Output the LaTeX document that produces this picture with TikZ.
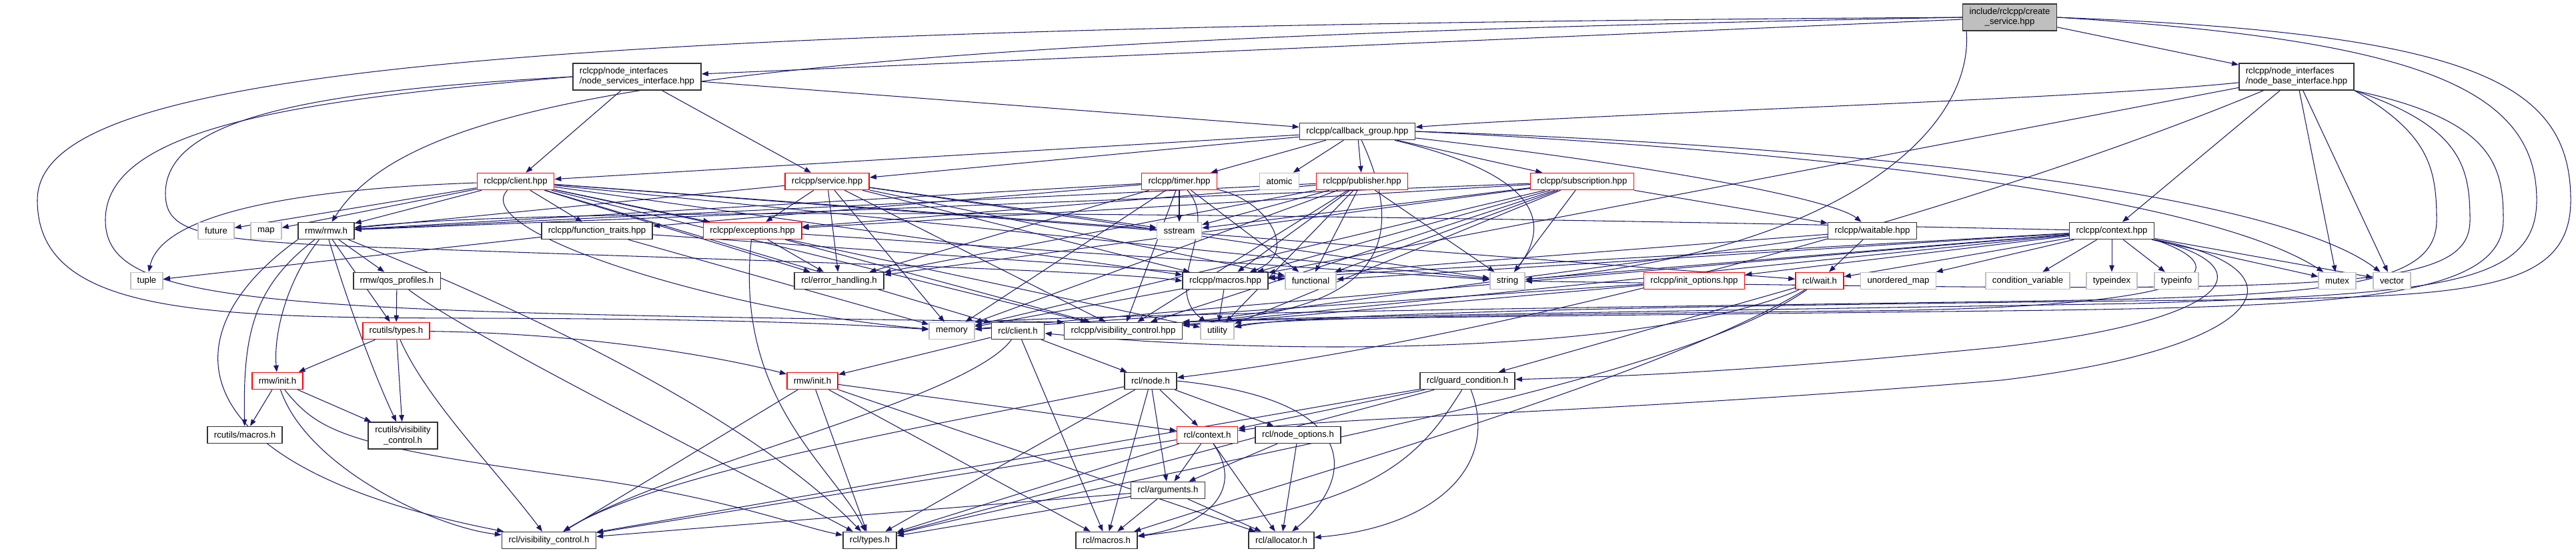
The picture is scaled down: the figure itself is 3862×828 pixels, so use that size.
\documentclass[tikz,border=0pt]{standalone}
\usepackage{fontspec}
\setmainfont{Liberation Sans}
\usetikzlibrary{arrows.meta}
\definecolor{edgeblue}{HTML}{191970}
\definecolor{sysgray}{HTML}{BFBFBF}
\newcommand{\doxyfont}{\fontsize{7.5}{8.6}\selectfont}
\pgfdeclarelayer{background}
\pgfsetlayers{background,main}

\tikzset{
    file/.style={draw=black!80, fill=white, font=\doxyfont, inner xsep=0.2cm,
        inner ysep=0.04cm, minimum height=0.5cm, line width=0.9pt},
    sysfile/.style={file, draw=sysgray},
    cutfile/.style={file, draw=red},
    twoline/.style={file, align=left, minimum height=0.8cm},
    rootfile/.style={file, fill=sysgray, align=center, minimum height=0.8cm},
    link/.style={-{Triangle[length=0.2cm,width=0.15cm]}, draw=edgeblue, line width=0.6pt}
}

\begin{document}
\begin{tikzpicture}[x=0.02cm, y=-0.02cm]
    \useasboundingbox (0,0) rectangle (3862,828);
    % top of the graph
    \node[rootfile] (cs) at (3013,26) {include/rclcpp/create\\\_service.hpp};
    \node[twoline] (nsi) at (955,115) {rclcpp/node\_interfaces\\/node\_services\_interface.hpp};
    \node[twoline] (nbi) at (3443,115) {rclcpp/node\_interfaces\\/node\_base\_interface.hpp};
    \node[file] (cbg) at (2035,197) {rclcpp/callback\_group.hpp};
    \node[cutfile] (client) at (773,272) {rclcpp/client.hpp};
    \node[cutfile] (service) at (1240,272) {rclcpp/service.hpp};
    \node[cutfile] (timer) at (1768,272) {rclcpp/timer.hpp};
    \node[sysfile] (atomic) at (1918,272) {atomic};
    \node[cutfile] (publisher) at (2042,272) {rclcpp/publisher.hpp};
    \node[cutfile] (subscription) at (2372,272) {rclcpp/subscription.hpp};
    \node[sysfile] (future) at (324,346) {future};
    \node[sysfile] (map) at (399,346) {map};
    \node[file] (rmw) at (489,346) {rmw/rmw.h};
    \node[file] (ftraits) at (895,346) {rclcpp/function\_traits.hpp};
    \node[cutfile] (exceptions) at (1128,346) {rclcpp/exceptions.hpp};
    \node[sysfile] (sstream) at (1768,346) {sstream};
    \node[file] (waitable) at (2807,346) {rclcpp/waitable.hpp};
    \node[file] (context) at (3166,346) {rclcpp/context.hpp};
    \node[sysfile] (tuple) at (220,421) {tuple};
    \node[file] (qos) at (595,421) {rmw/qos\_profiles.h};
    \node[file] (errh) at (1258,421) {rcl/error\_handling.h};
    \node[file] (macros) at (1837,421) {rclcpp/macros.hpp};
    \node[sysfile] (functional) at (1965,421) {functional};
    \node[sysfile] (string) at (2260,421) {string};
    \node[cutfile] (initopt) at (2540,421) {rclcpp/init\_options.hpp};
    \node[cutfile] (wait) at (2728,421) {rcl/wait.h};
    \node[sysfile] (umap) at (2846,421) {unordered\_map};
    \node[sysfile] (condvar) at (3040,421) {condition\_variable};
    \node[sysfile] (typeindex) at (3166,421) {typeindex};
    \node[sysfile] (typeinfo) at (3263,421) {typeinfo};
    \node[sysfile] (mutex) at (3504,421) {mutex};
    \node[sysfile] (vector) at (3586,421) {vector};
    \node[cutfile] (rcutypes) at (594,496) {rcutils/types.h};
    \node[sysfile] (memory) at (1427,496) {memory};
    \node[file] (rclclient) at (1526,496) {rcl/client.h};
    \node[file] (vis) at (1684,496) {rclcpp/visibility\_control.hpp};
    \node[sysfile] (utility) at (1825,496) {utility};
    \node[cutfile] (rmwinit) at (416,571) {rmw/init.h};
    \node[cutfile] (init2) at (1218,571) {rmw/init.h};
    \node[file] (node) at (1725,571) {rcl/node.h};
    \node[file] (gc) at (2200,571) {rcl/guard\_condition.h};
    \node[file] (rcumacros) at (367,652) {rcutils/macros.h};
    \node[file, align=center, minimum height=0.8cm] (rcuvis) at (604,653) {rcutils/visibility\\\_control.h};
    \node[cutfile] (rclcontext) at (1810,652) {rcl/context.h};
    \node[file] (nodeopt) at (1946,652) {rcl/node\_options.h};
    \node[file] (args) at (1751,735) {rcl/arguments.h};
    \node[file] (rclvis) at (823,810) {rcl/visibility\_control.h};
    \node[file] (rcltypes) at (1304,810) {rcl/types.h};
    \node[file] (rclmacros) at (1659,810) {rcl/macros.h};
    \node[file] (alloc) at (1921,810) {rcl/allocator.h};

    \begin{pgfonlayer}{background}
    % root file
    \draw[link] (cs) -- (nsi);
    \draw[link] (cs) -- (nbi);
    \draw[link] (cs.west) .. controls (1100,60) and (620,140) .. (rmw);
    \draw[link] (cs.west) .. controls (700,40) and (56,110) .. (56,300) .. controls (56,470) and (300,476) .. (700,477) .. controls (1150,478) and (1300,488) .. (memory);
    \draw[link] ([xshift=-1.3cm]cs.south) .. controls (2960,200) and (2750,380) .. (string);
    \draw[link] (cs.east) .. controls (3700,50) and (3854,120) .. (3854,300) .. controls (3854,440) and (3700,445) .. (3300,450) .. controls (2500,458) and (1950,470) .. (utility);
    \draw[link] (cs.east) .. controls (3620,60) and (3803,130) .. (3803,300) .. controls (3803,430) and (3650,440) .. (3200,455) .. controls (2400,468) and (1900,476) .. (vis.north east);
    % node services interface
    \draw[link] (nsi) -- (cbg);
    \draw[link] (nsi) -- (client);
    \draw[link] (nsi) -- (service);
    \draw[link] (nsi.west) .. controls (450,150) and (158,190) .. (158,330) .. controls (158,460) and (400,468) .. (vis.north west);
    \draw[link] (nsi.west) .. controls (500,135) and (248,170) .. (248,290) .. controls (248,350) and (300,362) .. (600,372) .. controls (1100,390) and (1650,405) .. (macros.west);
    % node base interface
    \draw[link] (nbi) .. controls (3100,150) and (2400,170) .. (cbg);
    \draw[link] (nbi) -- (context);
    \draw[link] (nbi) -- (mutex);
    \draw[link] (nbi) -- (vector);
    \draw[link] (nbi) -- (macros);
    \draw[link] (nbi) .. controls (3000,300) and (2300,500) .. (node);
    \draw[link] (nbi.south east) .. controls (3640,200) and (3653,250) .. (3653,330) .. controls (3653,430) and (3500,445) .. (3000,452) .. controls (2300,462) and (1700,470) .. (memory.north east);
    \draw[link] (nbi.south east) .. controls (3690,190) and (3703,250) .. (3703,330) .. controls (3703,440) and (3500,440) .. (string);
    \draw[link] (nbi.south east) .. controls (3740,180) and (3753,250) .. (3753,330) .. controls (3753,450) and (3500,460) .. (3000,466) .. controls (2300,474) and (1900,478) .. (vis.north east);
    % callback group
    \draw[link] (cbg) -- (client);
    \draw[link] (cbg) -- (service);
    \draw[link] (cbg) -- (timer);
    \draw[link] (cbg) -- (atomic);
    \draw[link] (cbg) -- (publisher);
    \draw[link] (cbg) -- (subscription);
    \draw[link] (cbg.east) .. controls (2700,225) and (3300,290) .. (mutex);
    \draw[link] (cbg.east) .. controls (2700,215) and (3400,280) .. (vector);
    \draw[link] (cbg) .. controls (2500,250) and (2750,300) .. (waitable);
    \draw[link] (cbg) .. controls (2300,260) and (2330,330) .. (string);
    \draw[link] (cbg) .. controls (2120,380) and (2050,470) .. (vis.north east);
    % client
    \draw[link] (client) -- (future);
    \draw[link] (client) -- (map);
    \draw[link] (client) -- (rmw);
    \draw[link] (client) .. controls (400,285) and (240,330) .. (tuple);
    \draw[link] (client) -- (ftraits);
    \draw[link] (client) -- (exceptions);
    \draw[link] (client) .. controls (700,350) and (1100,470) .. (memory);
    \draw[link] (client) -- (sstream);
    \draw[link] (client) -- (string);
    \draw[link] (client) -- (utility);
    \draw[link] (client) -- (errh);
    \draw[link] (client) -- (macros);
    \draw[link] (client) -- (vis);
    \draw[link] (client) -- (rclclient);
    \draw[link] (client) -- (wait);
    % service
    \draw[link] (service) -- (rmw);
    \draw[link] (service) -- (exceptions);
    \draw[link] (service) -- (errh);
    \draw[link] (service) -- (memory);
    \draw[link] (service) -- (sstream);
    \draw[link] (service) -- (string);
    \draw[link] (service) -- (functional);
    \draw[link] (service) -- (macros);
    \draw[link] (service) -- (vis);
    % timer
    \draw[link] (timer) -- (rmw);
    \draw[link] (timer) -- (ftraits);
    \draw[link] (timer) -- (errh);
    \draw[link] (timer) -- (memory);
    \draw[link] (timer) -- (sstream);
    \draw[link] (timer) .. controls (1830,340) and (1740,430) .. (utility);
    \draw[link] (timer) .. controls (1900,300) and (1950,380) .. (macros);
    \draw[link] (timer) -- (vis);
    \draw[link] (timer) -- (functional);
    % publisher
    \draw[link] (publisher) -- (rmw);
    \draw[link] (publisher) -- (errh);
    \draw[link] (publisher) -- (exceptions);
    \draw[link] (publisher) -- (memory);
    \draw[link] (publisher) -- (sstream);
    \draw[link] (publisher) -- (string);
    \draw[link] (publisher) -- (functional);
    \draw[link] (publisher) -- (macros);
    \draw[link] (publisher) -- (vis);
    \draw[link] (publisher) -- (utility);
    % subscription
    \draw[link] (subscription) -- (rmw);
    \draw[link] (subscription) -- (errh);
    \draw[link] (subscription) -- (exceptions);
    \draw[link] (subscription) -- (memory);
    \draw[link] (subscription) -- (sstream);
    \draw[link] (subscription) -- (string);
    \draw[link] (subscription) -- (functional);
    \draw[link] (subscription) -- (macros);
    \draw[link] (subscription) -- (vis);
    \draw[link] (subscription) -- (utility);
    \draw[link] (subscription) -- (waitable);
    % second row
    \draw[link] (ftraits) -- (tuple);
    \draw[link] (ftraits) -- (memory);
    \draw[link] (ftraits) -- (functional);
    \draw[link] (exceptions) -- (errh);
    \draw[link] (exceptions) -- (vis);
    \draw[link] (exceptions) -- (string);
    \draw[link] (exceptions) .. controls (1100,600) and (1250,700) .. (rcltypes);
    \draw[link] (waitable) -- (wait);
    \draw[link] (waitable) -- (macros);
    \draw[link] (waitable) -- (vis);
    \draw[link] (macros) -- (memory);
    \draw[link] (macros) -- (utility);
    \draw[link] (initopt) -- (vis);
    \draw[link] (initopt) -- (memory);
    % context
    \draw[link] (context) -- (condvar);
    \draw[link] (context) -- (typeindex);
    \draw[link] (context) -- (typeinfo);
    \draw[link] (context) -- (umap);
    \draw[link] (context) -- (mutex);
    \draw[link] (context) -- (vector);
    \draw[link] (context) -- (wait);
    \draw[link] (context) -- (initopt);
    \draw[link] (context) -- (string);
    \draw[link] (context) -- (functional);
    \draw[link] (context) -- (macros);
    \draw[link] (context) -- (memory);
    \draw[link] (context) -- (vis);
    \draw[link] (context) .. controls (2400,330) and (900,300) .. (rmw);
    \draw[link] (context.south east) .. controls (3350,400) and (3340,460) .. (2800,466) .. controls (2200,472) and (1900,478) .. (utility);
    \draw[link] (context.south east) .. controls (3400,400) and (3350,480) .. (3000,520) .. controls (2600,560) and (2400,565) .. (gc);
    \draw[link] (context.south east) .. controls (3460,400) and (3420,520) .. (3000,570) .. controls (2400,620) and (2000,625) .. (rclcontext);
    % rmw side
    \draw[link] (rmw) -- (qos);
    \draw[link] (rmw) -- (rcutypes);
    \draw[link] (rmw) .. controls (430,420) and (410,500) .. (rmwinit);
    \draw[link] (rmw) .. controls (380,430) and (364,500) .. (rcumacros);
    \draw[link] (rmw) .. controls (520,450) and (560,560) .. (rcuvis);
    \draw[link] (rmw.south west) .. controls (250,500) and (260,700) .. (rclvis);
    \draw[link] (rmw) .. controls (700,430) and (1100,600) .. (rcltypes);
    \draw[link] (qos) -- (rcutypes);
    \draw[link] (qos) .. controls (700,500) and (1000,650) .. (rcltypes);
    \draw[link] (rcutypes) -- (rmwinit);
    \draw[link] (rcutypes) -- (rcuvis);
    \draw[link] (rcutypes) .. controls (640,600) and (740,700) .. (rclvis);
    \draw[link] (rcutypes) .. controls (900,500) and (1100,540) .. (init2);
    \draw[link] (rmwinit) -- (rcumacros);
    \draw[link] (rmwinit) -- (rcuvis);
    \draw[link] (rmwinit) .. controls (460,700) and (650,790) .. (rclvis);
    \draw[link] (rmwinit) .. controls (480,650) and (520,670) .. (900,720) .. controls (1100,750) and (1200,790) .. (rcltypes);
    % rcl side
    \draw[link] (init2) -- (rclcontext);
    \draw[link] (init2) -- (rcltypes);
    \draw[link] (init2) -- (rclmacros);
    \draw[link] (init2) -- (alloc);
    \draw[link] (init2) -- (rclvis);
    \draw[link] (rclclient) -- (node);
    \draw[link] (rclclient) -- (rclmacros);
    \draw[link] (rclclient) -- (init2);
    \draw[link] (rclclient) .. controls (1450,600) and (1000,700) .. (rclvis);
    \draw[link] (wait) -- (gc);
    \draw[link] (wait) .. controls (2500,520) and (2000,540) .. (rclclient);
    \draw[link] (wait) .. controls (2500,560) and (2000,700) .. (rclmacros);
    \draw[link] (wait) .. controls (2500,580) and (1800,690) .. (rcltypes);
    \draw[link] (node) -- (rclcontext);
    \draw[link] (node) -- (nodeopt);
    \draw[link] (node) -- (args);
    \draw[link] (node) -- (rclmacros);
    \draw[link] (node) -- (rcltypes);
    \draw[link] (node.east) .. controls (2050,600) and (2030,720) .. (alloc);
    \draw[link] (node) .. controls (1500,620) and (1000,700) .. (rclvis);
    \draw[link] (gc) -- (rclcontext);
    \draw[link] (gc) .. controls (2250,700) and (2150,790) .. (alloc);
    \draw[link] (gc) .. controls (2120,700) and (2050,760) .. (rclmacros);
    \draw[link] (gc) -- (rcltypes);
    \draw[link] (gc) -- (rclvis);
    \draw[link] (rclcontext) -- (args);
    \draw[link] (rclcontext) .. controls (1870,740) and (1800,790) .. (rclmacros);
    \draw[link] (rclcontext) -- (alloc);
    \draw[link] (rclcontext) -- (rcltypes);
    \draw[link] (rclcontext) -- (rclvis);
    \draw[link] (nodeopt) -- (args);
    \draw[link] (nodeopt) -- (alloc);
    \draw[link] (args) -- (rcltypes);
    \draw[link] (args) -- (rclmacros);
    \draw[link] (args) -- (alloc);
    \draw[link] (args) -- (rclvis);
    \end{pgfonlayer}
\end{tikzpicture}
\end{document}
